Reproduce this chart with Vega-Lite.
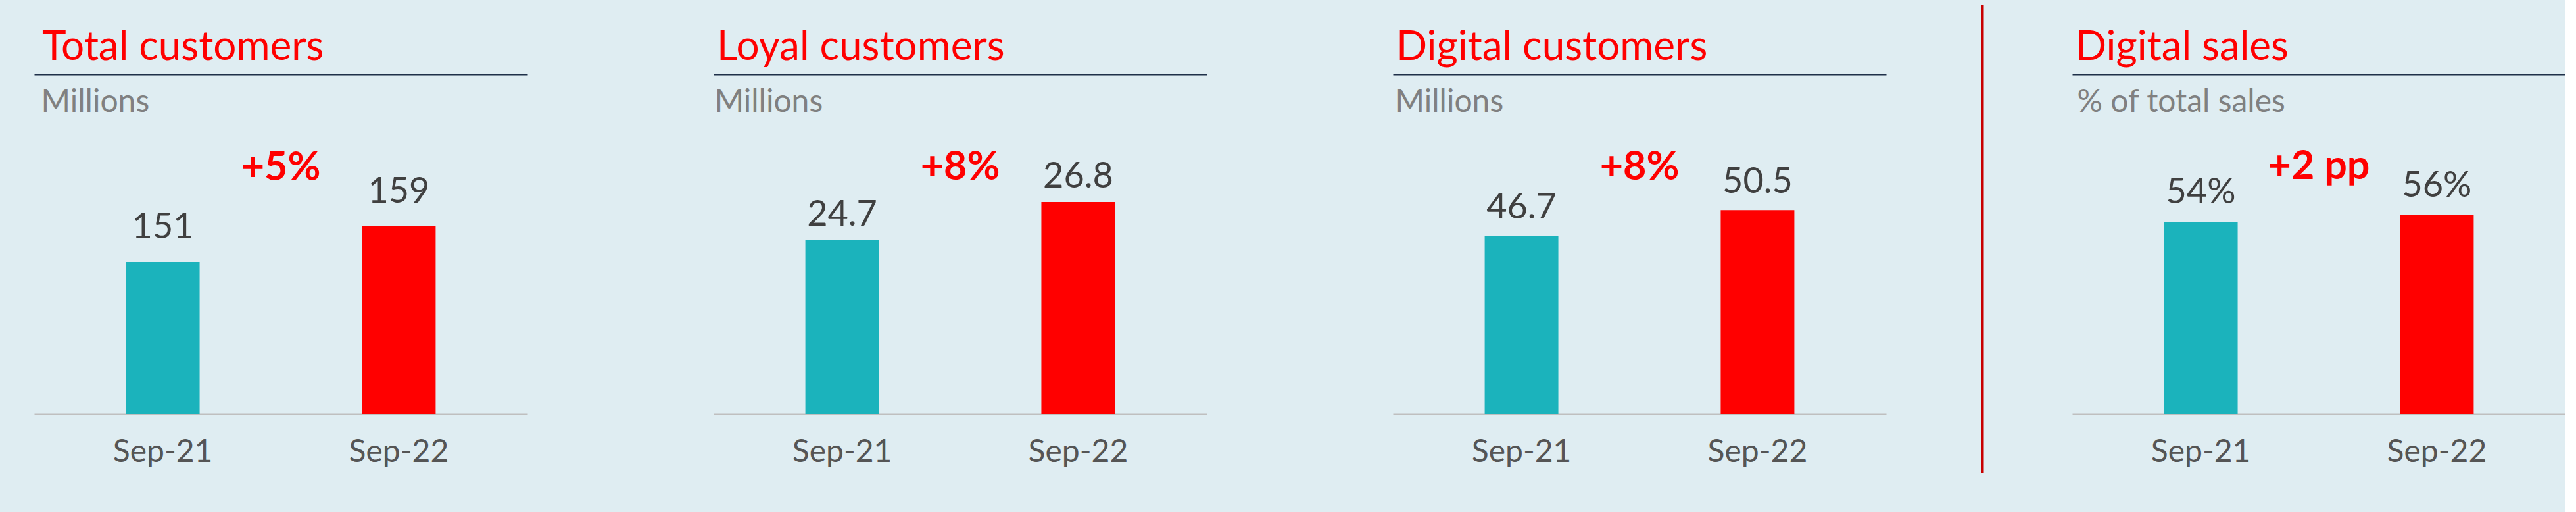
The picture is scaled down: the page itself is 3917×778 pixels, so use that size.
{
  "$schema": "https://vega.github.io/schema/vega-lite/v6.json",
  "background": "#DFEDF2",
  "padding": {"left": 52, "top": 41, "right": 0, "bottom": 0},
  "bounds": "flush",
  "spacing": 283,
  "config": {"view": {"stroke": null}, "font": "Lato"},
  "data": {"values": [
    {"panel": "Total customers", "period": "Sep-21", "value": 151, "label": "151", "change": null},
    {"panel": "Total customers", "period": "Sep-22", "value": 159, "label": "159", "change": "+5%"},
    {"panel": "Loyal customers", "period": "Sep-21", "value": 24.7, "label": "24.7", "change": null},
    {"panel": "Loyal customers", "period": "Sep-22", "value": 26.8, "label": "26.8", "change": "+8%"},
    {"panel": "Digital customers", "period": "Sep-21", "value": 46.7, "label": "46.7", "change": null},
    {"panel": "Digital customers", "period": "Sep-22", "value": 50.5, "label": "50.5", "change": "+8%"},
    {"panel": "Digital sales", "period": "Sep-21", "value": 54, "label": "54%", "change": null},
    {"panel": "Digital sales", "period": "Sep-22", "value": 56, "label": "56%", "change": "+2 pp"}
  ]},
  "hconcat": [
    {
      "width": 750, "height": 516,
      "transform": [{"filter": "datum.panel === 'Total customers'"}],
      "title": {"text": "Total customers", "anchor": "start", "frame": "group", "baseline": "alphabetic", "offset": 0, "dy": 40, "dx": 12, "fontSize": 62, "font": "Lato", "fontWeight": "normal", "color": "#FF0000"},
      "encoding": {
        "y": {"field": "value", "type": "quantitative", "scale": {"domain": [116.8, 193.2], "zero": false, "nice": false},
              "axis": {"orient": "left", "title": "Millions", "titleAngle": 0, "titleAlign": "left", "titleBaseline": "alphabetic", "titleX": 10, "titleY": 56, "titleFont": "Lato", "titleFontSize": 48, "titleFontWeight": "normal", "titleColor": "#808080", "domain": false, "ticks": false, "labels": false, "grid": false, "minExtent": 0}}
      },
      "layer": [
        {"mark": {"type": "bar", "width": {"band": 0.312}, "clip": true},
         "encoding": {
           "x": {"field": "period", "type": "nominal", "scale": {"type": "band", "paddingInner": 0, "paddingOuter": 0.045, "domain": ["Sep-21", "Sep-22"]},
                 "axis": {"orient": "bottom", "title": null, "domainColor": "#BFBFBF", "domainWidth": 2, "ticks": false, "tickSize": 0, "labelAngle": 0, "labelFont": "Lato", "labelFontSize": 48, "labelColor": "#555555", "labelPadding": 72, "labelBaseline": "alphabetic", "grid": false}},
           "color": {"field": "period", "type": "nominal", "scale": {"domain": ["Sep-21", "Sep-22"], "range": ["#1BB3BC", "#FF0000"]}, "legend": null}
         }},
        {"mark": {"type": "text", "fontSize": 54, "font": "Lato", "color": "#404040", "baseline": "alphabetic", "dy": -36},
         "encoding": {
           "x": {"field": "period", "type": "nominal", "scale": {"type": "band", "paddingInner": 0, "paddingOuter": 0.045, "domain": ["Sep-21", "Sep-22"]},
                 "axis": {"orient": "top", "title": null, "labels": false, "ticks": false, "domainColor": "#1F3049", "domainWidth": 2, "grid": false}},
           "text": {"field": "label"}
         }},
        {"transform": [{"filter": "datum.change != null"}],
         "mark": {"type": "text", "fontSize": 61, "font": "Lato", "fontWeight": "bold", "color": "#FF0000", "baseline": "alphabetic", "align": "center", "dy": -70},
         "encoding": {
           "x": {"field": "period", "type": "nominal", "bandPosition": 0, "scale": {"type": "band", "paddingInner": 0, "paddingOuter": 0.045, "domain": ["Sep-21", "Sep-22"]}, "axis": null},
           "text": {"field": "change"}
         }}
      ],
      "resolve": {"axis": {"x": "independent"}}
    },
    {
      "width": 750, "height": 516,
      "transform": [{"filter": "datum.panel === 'Loyal customers'"}],
      "title": {"text": "Loyal customers", "anchor": "start", "frame": "group", "baseline": "alphabetic", "offset": 0, "dy": 40, "dx": 5, "fontSize": 62, "font": "Lato", "fontWeight": "normal", "color": "#FF0000"},
      "encoding": {
        "y": {"field": "value", "type": "quantitative", "scale": {"domain": [15.13, 33.83], "zero": false, "nice": false},
              "axis": {"orient": "left", "title": "Millions", "titleAngle": 0, "titleAlign": "left", "titleBaseline": "alphabetic", "titleX": 1, "titleY": 56, "titleFont": "Lato", "titleFontSize": 48, "titleFontWeight": "normal", "titleColor": "#808080", "domain": false, "ticks": false, "labels": false, "grid": false, "minExtent": 0}}
      },
      "layer": [
        {"mark": {"type": "bar", "width": {"band": 0.312}, "clip": true},
         "encoding": {
           "x": {"field": "period", "type": "nominal", "scale": {"type": "band", "paddingInner": 0, "paddingOuter": 0.045, "domain": ["Sep-21", "Sep-22"]},
                 "axis": {"orient": "bottom", "title": null, "domainColor": "#BFBFBF", "domainWidth": 2, "ticks": false, "tickSize": 0, "labelAngle": 0, "labelFont": "Lato", "labelFontSize": 48, "labelColor": "#555555", "labelPadding": 72, "labelBaseline": "alphabetic", "grid": false}},
           "color": {"field": "period", "type": "nominal", "scale": {"domain": ["Sep-21", "Sep-22"], "range": ["#1BB3BC", "#FF0000"]}, "legend": null}
         }},
        {"mark": {"type": "text", "fontSize": 54, "font": "Lato", "color": "#404040", "baseline": "alphabetic", "dy": -22},
         "encoding": {
           "x": {"field": "period", "type": "nominal", "scale": {"type": "band", "paddingInner": 0, "paddingOuter": 0.045, "domain": ["Sep-21", "Sep-22"]},
                 "axis": {"orient": "top", "title": null, "labels": false, "ticks": false, "domainColor": "#1F3049", "domainWidth": 2, "grid": false}},
           "text": {"field": "label"}
         }},
        {"transform": [{"filter": "datum.change != null"}],
         "mark": {"type": "text", "fontSize": 61, "font": "Lato", "fontWeight": "bold", "color": "#FF0000", "baseline": "alphabetic", "align": "center", "dy": -34},
         "encoding": {
           "x": {"field": "period", "type": "nominal", "bandPosition": 0, "scale": {"type": "band", "paddingInner": 0, "paddingOuter": 0.045, "domain": ["Sep-21", "Sep-22"]}, "axis": null},
           "text": {"field": "change"}
         }}
      ],
      "resolve": {"axis": {"x": "independent"}}
    },
    {
      "width": 750, "height": 516,
      "transform": [{"filter": "datum.panel === 'Digital customers'"}],
      "title": {"text": "Digital customers", "anchor": "start", "frame": "group", "baseline": "alphabetic", "offset": 0, "dy": 40, "dx": 5, "fontSize": 62, "font": "Lato", "fontWeight": "normal", "color": "#FF0000"},
      "encoding": {
        "y": {"field": "value", "type": "quantitative", "scale": {"domain": [20.3, 70.6], "zero": false, "nice": false},
              "axis": {"orient": "left", "title": "Millions", "titleAngle": 0, "titleAlign": "left", "titleBaseline": "alphabetic", "titleX": 3, "titleY": 56, "titleFont": "Lato", "titleFontSize": 48, "titleFontWeight": "normal", "titleColor": "#808080", "domain": false, "ticks": false, "labels": false, "grid": false, "minExtent": 0}}
      },
      "layer": [
        {"mark": {"type": "bar", "width": {"band": 0.312}, "clip": true},
         "encoding": {
           "x": {"field": "period", "type": "nominal", "scale": {"type": "band", "paddingInner": 0, "paddingOuter": 0.045, "domain": ["Sep-21", "Sep-22"]},
                 "axis": {"orient": "bottom", "title": null, "domainColor": "#BFBFBF", "domainWidth": 2, "ticks": false, "tickSize": 0, "labelAngle": 0, "labelFont": "Lato", "labelFontSize": 48, "labelColor": "#555555", "labelPadding": 72, "labelBaseline": "alphabetic", "grid": false}},
           "color": {"field": "period", "type": "nominal", "scale": {"domain": ["Sep-21", "Sep-22"], "range": ["#1BB3BC", "#FF0000"]}, "legend": null}
         }},
        {"mark": {"type": "text", "fontSize": 54, "font": "Lato", "color": "#404040", "baseline": "alphabetic", "dy": -26},
         "encoding": {
           "x": {"field": "period", "type": "nominal", "scale": {"type": "band", "paddingInner": 0, "paddingOuter": 0.045, "domain": ["Sep-21", "Sep-22"]},
                 "axis": {"orient": "top", "title": null, "labels": false, "ticks": false, "domainColor": "#1F3049", "domainWidth": 2, "grid": false}},
           "text": {"field": "label"}
         }},
        {"transform": [{"filter": "datum.change != null"}],
         "mark": {"type": "text", "fontSize": 61, "font": "Lato", "fontWeight": "bold", "color": "#FF0000", "baseline": "alphabetic", "align": "center", "dy": -46},
         "encoding": {
           "x": {"field": "period", "type": "nominal", "bandPosition": 0, "scale": {"type": "band", "paddingInner": 0, "paddingOuter": 0.045, "domain": ["Sep-21", "Sep-22"]}, "axis": null},
           "text": {"field": "change"}
         }}
      ],
      "resolve": {"axis": {"x": "independent"}}
    },
    {
      "width": 750, "height": 516,
      "transform": [{"filter": "datum.panel === 'Digital sales'"}],
      "title": {"text": "Digital sales", "anchor": "start", "frame": "group", "baseline": "alphabetic", "offset": 0, "dy": 40, "dx": 5, "fontSize": 62, "font": "Lato", "fontWeight": "normal", "color": "#FF0000"},
      "encoding": {
        "y": {"field": "value", "type": "quantitative", "scale": {"domain": [-16.48, 115.19], "range": [605, -106], "zero": false, "nice": false},
              "axis": {"orient": "left", "offset": 137, "title": "% of total sales", "titleAngle": 0, "titleAlign": "left", "titleBaseline": "alphabetic", "titleX": 144, "titleY": 56, "titleFont": "Lato", "titleFontSize": 48, "titleFontWeight": "normal", "titleColor": "#808080", "domain": true, "domainColor": "#C80000", "domainWidth": 4, "ticks": false, "labels": false, "grid": false, "minExtent": 0}}
      },
      "layer": [
        {"mark": {"type": "bar", "width": {"band": 0.312}, "clip": true},
         "encoding": {
           "x": {"field": "period", "type": "nominal", "scale": {"type": "band", "paddingInner": 0, "paddingOuter": 0.045, "domain": ["Sep-21", "Sep-22"]},
                 "axis": {"orient": "bottom", "title": null, "domainColor": "#BFBFBF", "domainWidth": 2, "ticks": false, "tickSize": 0, "labelAngle": 0, "labelFont": "Lato", "labelFontSize": 48, "labelColor": "#555555", "labelPadding": 72, "labelBaseline": "alphabetic", "grid": false}},
           "color": {"field": "period", "type": "nominal", "scale": {"domain": ["Sep-21", "Sep-22"], "range": ["#1BB3BC", "#FF0000"]}, "legend": null}
         }},
        {"mark": {"type": "text", "fontSize": 54, "font": "Lato", "color": "#404040", "baseline": "alphabetic", "dy": -28},
         "encoding": {
           "x": {"field": "period", "type": "nominal", "scale": {"type": "band", "paddingInner": 0, "paddingOuter": 0.045, "domain": ["Sep-21", "Sep-22"]},
                 "axis": {"orient": "top", "title": null, "labels": false, "ticks": false, "domainColor": "#1F3049", "domainWidth": 2, "grid": false}},
           "text": {"field": "label"}
         }},
        {"transform": [{"filter": "datum.change != null"}],
         "mark": {"type": "text", "fontSize": 61, "font": "Lato", "fontWeight": "bold", "color": "#FF0000", "baseline": "alphabetic", "align": "center", "dy": -55},
         "encoding": {
           "x": {"field": "period", "type": "nominal", "bandPosition": 0, "scale": {"type": "band", "paddingInner": 0, "paddingOuter": 0.045, "domain": ["Sep-21", "Sep-22"]}, "axis": null},
           "text": {"field": "change"}
         }}
      ],
      "resolve": {"axis": {"x": "independent"}}
    }
  ]
}
